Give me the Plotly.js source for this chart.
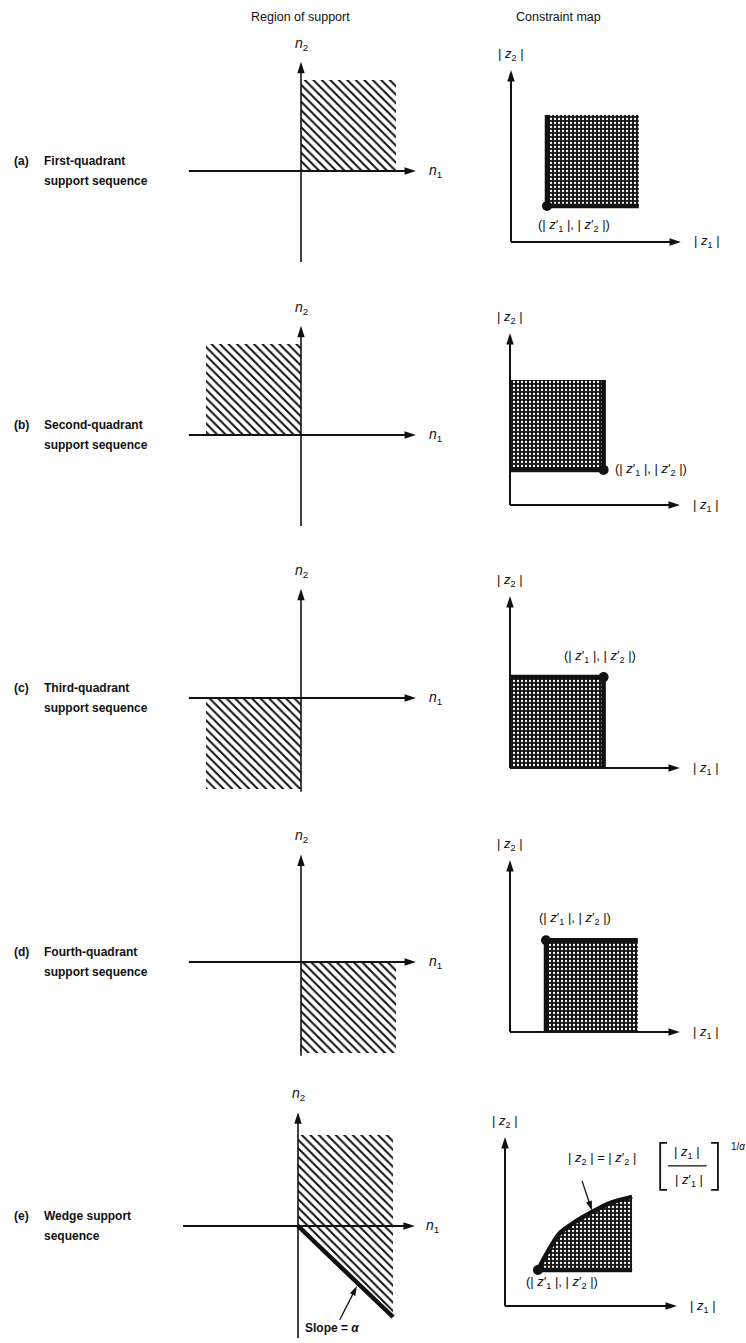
<!DOCTYPE html>
<html><head><meta charset="utf-8">
<script src="https://cdn.plot.ly/plotly-3.0.1.min.js"></script>
<style>html,body{margin:0;padding:0;background:#fff}#chart{width:746px;height:1343px}</style>
</head><body><div id="chart"></div>
<script>
// ---------------- data ----------------
const columnTitles = ['Region of support', 'Constraint map'];
const panelTags = ['(a)', '(b)', '(c)', '(d)', '(e)'];
const panelLine1 = ['First-quadrant', 'Second-quadrant', 'Third-quadrant', 'Fourth-quadrant', 'Wedge support'];
const panelLine2 = ['support sequence', 'support sequence', 'support sequence', 'support sequence', 'sequence'];

// region of support polygons (n1, n2 units)
const supportN1 = [[0, 1, 1, 0], [-1, 0, 0, -1], [-1, 0, 0, -1], [0, 1, 1, 0], [0, 1, 1, 0]];
const supportN2 = [[0, 0, 1, 1], [0, 0, 1, 1], [-1, -1, 0, 0], [-1, -1, 0, 0], [1, 1, -1, 0]];
const wedgeEdgeN1 = [0, 1];
const wedgeEdgeN2 = [0, -1];

// constraint map: corner point (|z1'|, |z2'|)
const pointZ1 = [2, 5.2, 5.2, 2, 1.83];
const pointZ2 = [2, 1.95, 5.05, 5.1, 2];
// wedge boundary curve |z2| = |z2'| (|z1|/|z1'|)^(1/alpha)
const curveZ1 = [1.83, 2.33, 3.06, 3.89, 4.83, 5.83, 7.06];
const curveZ2 = [2.0, 2.94, 4.06, 4.67, 5.22, 5.72, 6.06];
// constraint map regions (|z1|, |z2| units)
const mapZ1 = [[2, 7.1, 7.1, 2], [0, 5.2, 5.2, 0], [0, 5.2, 5.2, 0], [2, 7.1, 7.1, 2], curveZ1.concat([7.06])];
const mapZ2 = [[2, 2, 7.05, 7.05], [1.95, 1.95, 6.95, 6.95], [0, 0, 5.05, 5.05], [0, 0, 5.1, 5.1], curveZ2.concat([2.0])];
// thick boundary of each constraint region
const edgeZ1 = [[2, 2, 7.1], [0, 5.2, 5.2], [0, 5.2, 5.2], [7.1, 2, 2], [1.83, 7.06]];
const edgeZ2 = [[7.05, 2, 2], [1.95, 1.95, 6.95], [5.05, 5.05, 0], [5.1, 5.1, 0], [2.0, 2.0]];

// ---------------- geometry / style ----------------
const W = 746, H = 1343;
const FONT = 'Liberation Sans, Arial, sans-serif';
const INK = '#111';
const leftOrigin = [[301, 171], [301, 435], [301, 698], [301, 962], [298, 1226]];
const rightOrigin = [[511, 242], [510, 505], [510, 768], [510, 1032], [505, 1306]];
const LSX = 95, LSY = 91, RS = 18;
const leftN1Ext = [[-1.18, 1.21], [-1.18, 1.21], [-1.18, 1.21], [-1.18, 1.21], [-1.21, 1.23]];
const leftN2Ext = [[-1.0, 1.2], [-1.0, 1.2], [-1.03, 1.2], [-1.03, 1.18], [-1.23, 1.25]];
const rightZ1Tip = [9.44, 9.44, 9.44, 9.44, 9.55];
const rightZ2Tip = [9.55, 9.55, 9.55, 9.55, 9.39];
const ptLabel = [
  {x: 3.5, y: 0.94, xanchor: 'center'},
  {x: 5.7, y: 1.95, xanchor: 'left'},
  {x: 5.0, y: 6.2, xanchor: 'center'},
  {x: 3.6, y: 6.3, xanchor: 'center'},
  {x: 3.15, y: 1.33, xanchor: 'center'}
];

const data = [];
const layout = {
  width: W, height: H, margin: {l: 0, r: 0, t: 0, b: 0},
  paper_bgcolor: '#fff', plot_bgcolor: 'rgba(0,0,0,0)', showlegend: false,
  annotations: [], shapes: []
};
const clamp = (v, a, b) => Math.max(a, Math.min(b, v));

function addAxes(n, ox, oy, sx, sy, box) {
  const x0 = clamp(box[0], 0, W), x1 = clamp(box[1], 0, W);
  const y0 = clamp(box[2], 0, H), y1 = clamp(box[3], 0, H);
  const id = n === 1 ? '' : String(n);
  layout['xaxis' + id] = {domain: [x0 / W, x1 / W], range: [(x0 - ox) / sx, (x1 - ox) / sx],
    visible: false, fixedrange: true, anchor: 'y' + id};
  layout['yaxis' + id] = {domain: [1 - y1 / H, 1 - y0 / H], range: [(oy - y1) / sy, (oy - y0) / sy],
    visible: false, fixedrange: true, anchor: 'x' + id};
  return ['x' + id, 'y' + id];
}
// a line with an arrowhead at its last point
function arrow(xa, ya, tail, tip, w, head) {
  data.push({type: 'scatter', xaxis: xa, yaxis: ya, x: [tail[0], tip[0]], y: [tail[1], tip[1]],
    mode: 'lines+markers', line: {width: w, color: INK},
    marker: {symbol: 'arrow', angleref: 'previous', size: head, color: INK, line: {width: 0}},
    hoverinfo: 'skip', cliponaxis: false});
}
function label(xa, ya, x, y, text, size, opts) {
  layout.annotations.push(Object.assign({xref: xa, yref: ya, x: x, y: y, text: text, showarrow: false,
    font: {family: FONT, size: size, color: INK}, xanchor: 'center', yanchor: 'middle'}, opts || {}));
}
const boldFont = {family: FONT, size: 12, color: INK, weight: 'bold'};

// column titles
label('paper', 'paper', 300 / W, 1 - 17 / H, columnTitles[0], 12.5);
label('paper', 'paper', 558 / W, 1 - 17 / H, columnTitles[1], 12.5);

for (let i = 0; i < 5; i++) {
  const [lox, loy] = leftOrigin[i];
  const [rox, roy] = rightOrigin[i];

  // panel text
  label('paper', 'paper', 12 / W, 1 - (loy - 10) / H, panelTags[i], 12, {xanchor: 'left', font: boldFont});
  label('paper', 'paper', 42 / W, 1 - (loy - 10) / H, panelLine1[i], 12, {xanchor: 'left', font: boldFont});
  label('paper', 'paper', 42 / W, 1 - (loy + 10) / H, panelLine2[i], 12, {xanchor: 'left', font: boldFont});

  // ---- left: region of support ----
  const [lx, ly] = addAxes(2 * i + 1, lox, loy, LSX, LSY, [lox - 130, lox + 165, loy - 140, loy + 130]);
  data.push({type: 'scatter', xaxis: lx, yaxis: ly, x: supportN1[i], y: supportN2[i],
    mode: 'lines', fill: 'toself', line: {width: 0, color: 'rgba(0,0,0,0)'}, fillcolor: '#fff',
    fillpattern: {shape: '\\', size: 6, solidity: 0.33, fgcolor: INK, bgcolor: '#fff'}, hoverinfo: 'skip'});
  if (i === 4) {
    data.push({type: 'scatter', xaxis: lx, yaxis: ly, x: wedgeEdgeN1, y: wedgeEdgeN2, mode: 'lines',
      line: {width: 4.5, color: INK}, hoverinfo: 'skip'});
    arrow(lx, ly, [0.44, -1.03], [0.62, -0.66], 1.3, 10);
    label(lx, ly, 0.36, -1.12, 'Slope = <i>α</i>', 12, {font: boldFont});
  }
  arrow(lx, ly, [leftN1Ext[i][0], 0], [leftN1Ext[i][1], 0], 2, 12);
  arrow(lx, ly, [0, leftN2Ext[i][0]], [0, leftN2Ext[i][1]], 1.6, 12);
  label(lx, ly, 1.42, 0, '<i>n</i><sub>1</sub>', 14);
  label(lx, ly, 0, leftN2Ext[i][1] + 0.2, '<i>n</i><sub>2</sub>', 14);

  // ---- right: constraint map ----
  const [rx, ry] = addAxes(2 * i + 2, rox, roy, RS, RS, [rox - 30, W, roy - 205, roy + 30]);
  data.push({type: 'scatter', xaxis: rx, yaxis: ry, x: mapZ1[i], y: mapZ2[i],
    mode: 'lines', fill: 'toself', line: {width: 0, color: 'rgba(0,0,0,0)'}, fillcolor: INK,
    fillpattern: {shape: '.', size: 4, solidity: 0.25, fgcolor: '#fff', bgcolor: '#161616'}, hoverinfo: 'skip'});
  data.push({type: 'scatter', xaxis: rx, yaxis: ry, x: edgeZ1[i], y: edgeZ2[i], mode: 'lines',
    line: {width: 4.5, color: INK}, hoverinfo: 'skip'});
  if (i === 4) {
    data.push({type: 'scatter', xaxis: rx, yaxis: ry, x: curveZ1, y: curveZ2, mode: 'lines',
      line: {width: 4.5, color: INK, shape: 'spline', smoothing: 0.8}, hoverinfo: 'skip'});
  }
  data.push({type: 'scatter', xaxis: rx, yaxis: ry, x: [pointZ1[i]], y: [pointZ2[i]], mode: 'markers',
    marker: {size: 10, color: INK}, hoverinfo: 'skip'});
  arrow(rx, ry, [0, 0], [rightZ1Tip[i], 0], 2, 12);
  arrow(rx, ry, [0, 0], [0, rightZ2Tip[i]], 2, 12);
  label(rx, ry, rightZ1Tip[i] + 1.45, 0, '| <i>z</i><sub>1</sub> |', 13);
  label(rx, ry, 0, rightZ2Tip[i] + 0.85, '| <i>z</i><sub>2</sub> |', 13);
  label(rx, ry, ptLabel[i].x, ptLabel[i].y, '(| <i>z</i>′<sub>1</sub> |, | <i>z</i>′<sub>2</sub> |)', 13, {xanchor: ptLabel[i].xanchor});

  if (i === 4) {
    label(rx, ry, 5.4, 8.2, '| <i>z</i><sub>2</sub> | = | <i>z</i>′<sub>2</sub> |', 13);
    label(rx, ry, 10.1, 8.55, '| <i>z</i><sub>1</sub> |', 13);
    label(rx, ry, 10.2, 6.95, '| <i>z</i>′<sub>1</sub> |', 13);
    label(rx, ry, 12.95, 8.85, '1/<i>α</i>', 10);
    layout.shapes.push({type: 'line', xref: rx, yref: ry, x0: 9.05, x1: 11.2, y0: 7.78, y1: 7.78, line: {width: 1.3, color: INK}});
    layout.shapes.push({type: 'path', xref: rx, yref: ry, path: 'M 9.0 9.06 L 8.62 9.06 L 8.62 6.45 L 9.0 6.45', line: {width: 1.8, color: INK}});
    layout.shapes.push({type: 'path', xref: rx, yref: ry, path: 'M 11.45 9.06 L 11.83 9.06 L 11.83 6.45 L 11.45 6.45', line: {width: 1.8, color: INK}});
    arrow(rx, ry, [4.28, 6.95], [4.83, 5.3], 1.3, 10);
  }
}

Plotly.newPlot('chart', data, layout, {staticPlot: true, displayModeBar: false});
</script></body></html>
